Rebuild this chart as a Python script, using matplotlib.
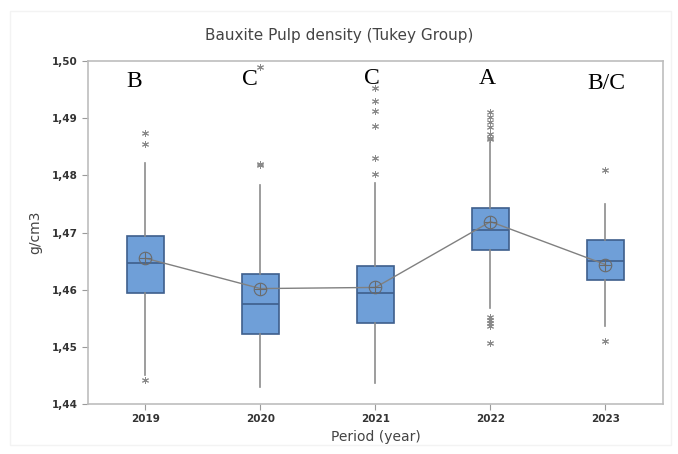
import numpy as np
import matplotlib.pyplot as plt
from matplotlib.ticker import FuncFormatter

# valores (g/cm3)
anos = ['2019', '2020', '2021', '2022', '2023']
q1 = [1.4595, 1.4522, 1.4541, 1.4670, 1.4617]
mediana = [1.4647, 1.4575, 1.4594, 1.4704, 1.4650]
q3 = [1.4694, 1.4628, 1.4642, 1.4743, 1.4687]
media = [1.4655, 1.4602, 1.4604, 1.4719, 1.4644]
whis_min = [1.4451, 1.4429, 1.4436, 1.4568, 1.4536]
whis_max = [1.4822, 1.4783, 1.4786, 1.4859, 1.4750]
outliers = [
    [1.4874, 1.4854, 1.4442],
    [1.4990, 1.4820, 1.4818],
    [1.4953, 1.4930, 1.4912, 1.4886, 1.4830, 1.4802],
    [1.4911, 1.4902, 1.4893, 1.4884, 1.4873, 1.4866, 1.4863,
     1.4553, 1.4547, 1.4542, 1.4536, 1.4507],
    [1.4810, 1.4511],
]
grupos = ['B', 'C', 'C', 'A', 'B/C']

stats = []
for i in range(len(anos)):
    stats.append({'med': mediana[i], 'q1': q1[i], 'q3': q3[i],
                  'whislo': whis_min[i], 'whishi': whis_max[i],
                  'fliers': outliers[i], 'mean': media[i], 'label': anos[i]})

fig = plt.figure(figsize=(6.78, 4.54), dpi=100)
ax = fig.add_axes([0.1298, 0.110, 0.848, 0.7556])
pos = np.arange(1, len(anos) + 1)

cinza = '#8c8c8c'
ax.bxp(stats, positions=pos, widths=0.325, patch_artist=True, showmeans=False,
       boxprops=dict(facecolor='#6f9fd8', edgecolor='#3e5f8c', linewidth=1.2),
       medianprops=dict(color='#3e5f8c', linewidth=1.2),
       whiskerprops=dict(color=cinza, linewidth=1.2),
       capprops=dict(linewidth=0),
       flierprops=dict(marker=(6, 2, 0), markeredgecolor='#8a8a8a',
                       markersize=5, markeredgewidth=0.7, linestyle='none'))

# linha das médias (símbolo de círculo com cruz)
ax.plot(pos, media, color='#808080', linewidth=1.0, zorder=4)
ax.plot(pos, media, 'o', mfc='none', mec='#6a6a6a', markersize=9, mew=0.8, zorder=5)
ax.plot(pos, media, '+', color='#6a6a6a', markersize=9, mew=0.8, zorder=5)

# letras de Tukey
desloc = [-0.1, -0.09, -0.03, -0.03, 0.01]
y_letras = [1.4964, 1.4967, 1.4970, 1.4970, 1.4960]
for i, g in enumerate(grupos):
    ax.text(pos[i] + desloc[i], y_letras[i], g, ha='center', va='center',
            fontsize=17, family='Liberation Serif', color='black')

ax.set_xlim(0.5, 5.5)
ax.set_ylim(1.44, 1.50)
ax.set_yticks(np.arange(1.44, 1.5001, 0.01))
ax.yaxis.set_major_formatter(FuncFormatter(lambda v, p: f'{v:.2f}'.replace('.', ',')))
ax.set_xticks(pos)
ax.set_xticklabels(anos)
for s in ax.spines.values():
    s.set_color('#bdbdbd')
    s.set_linewidth(1.2)
ax.tick_params(axis='both', colors='#9a9a9a', labelcolor='#333333', labelsize=7.5, length=4)
for lb in ax.get_xticklabels() + ax.get_yticklabels():
    lb.set_fontweight('bold')

ax.set_xlabel('Period (year)', fontsize=10, color='#444444', labelpad=4)
ax.set_ylabel('g/cm3', fontsize=10, color='#444444', labelpad=7)
fig.text(0.5, 0.922, 'Bauxite Pulp density (Tukey Group)', ha='center', va='center',
         fontsize=11, color='#444444')

fig.patches.append(plt.Rectangle((0.015, 0.02), 0.975, 0.955, transform=fig.transFigure,
                                 fill=False, edgecolor='#f3f3f3', linewidth=1))

fig.savefig('out.png', dpi=100)
